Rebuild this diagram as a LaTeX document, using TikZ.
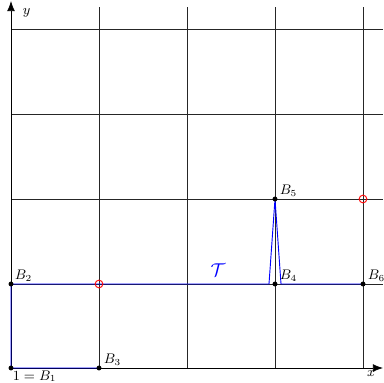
\documentclass[tikz,border=0pt]{standalone}
\usetikzlibrary{arrows.meta}
\begin{document}
\begin{tikzpicture}[x=0.6475pt,y=-0.6475pt,
  gridline/.style={black!85,line width=0.4pt},
  axisline/.style={black,line width=0.5pt,-{Latex[length=6.5pt,width=5pt]}},
  pathline/.style={blue,line width=0.6pt},
  dotnode/.style={circle,fill=black,inner sep=0pt,minimum size=3.2pt},
  redmark/.style={circle,draw=red,line width=0.6pt,inner sep=0pt,minimum size=5pt},
  lbl/.style={font=\small,inner sep=1pt}]
\useasboundingbox (0,0) rectangle (383,383);
% grid
\foreach \xx in {99,187,275,363} \draw[gridline] (\xx,7) -- (\xx,368);
\foreach \yy in {284,199,114,29} \draw[gridline] (11,\yy) -- (383,\yy);
% axes
\coordinate (O) at (11,368);
\coordinate (xend) at (383,368);
\coordinate (yend) at (11,1);
\draw[axisline] (O) -- (xend);
\draw[axisline] (O) -- (yend);
\node[lbl,anchor=north east] (xl) at (377,369) {$x$};
\node[lbl,anchor=west] (yl) at (21,13) {$y$};
% points
\coordinate (B1) at (11,368);
\coordinate (B2) at (11,284);
\coordinate (B3) at (99,368);
\coordinate (B4) at (275,284);
\coordinate (B5) at (275,199);
\coordinate (B6) at (363,284);
\coordinate (B4l) at (269,284);
\coordinate (B4r) at (281,284);
\draw[pathline] (B3) -- (B1) -- (B2) -- (B4l) -- (B5) -- (B4r) -- (B6);
\foreach \p in {B1,B2,B3,B4,B5,B6} \node[dotnode] (d\p) at (\p) {};
\node[lbl,anchor=north west] (l1) at (11,369) {$1=B_1$};
\node[lbl,anchor=south west] (l2) at (13,283) {$B_2$};
\node[lbl,anchor=south west] (l3) at (102,367) {$B_3$};
\node[lbl,anchor=south west] (l4) at (278,283) {$B_4$};
\node[lbl,anchor=south west] (l5) at (278,198) {$B_5$};
\node[lbl,anchor=south west] (l6) at (366,283) {$B_6$};
\node[blue,font=\large] (T) at (218,270) {$\mathcal{T}$};
\node[redmark] (r1) at (99,284) {};
\node[redmark] (r2) at (363,199) {};
\end{tikzpicture}
\end{document}
